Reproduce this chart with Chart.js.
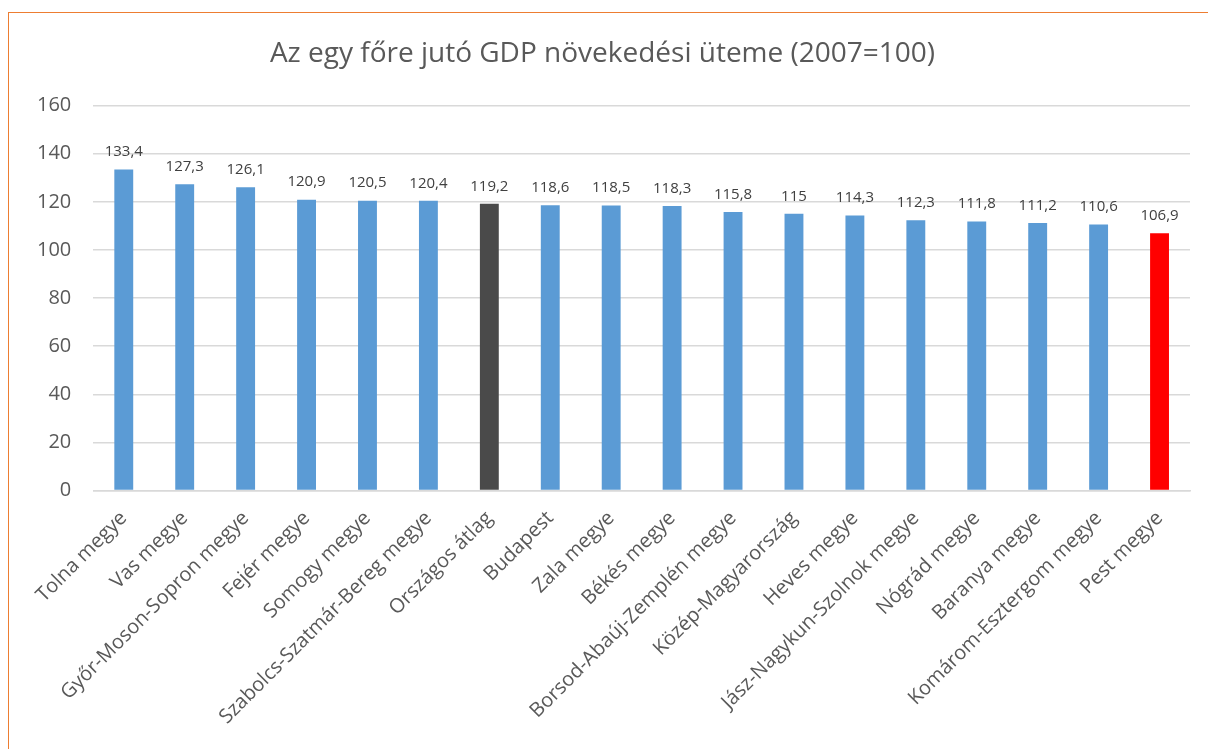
<!DOCTYPE html>
<html>
<head>
<meta charset="utf-8">
<script src="https://cdn.jsdelivr.net/npm/chart.js@4"></script>
<style>
  html, body { margin: 0; padding: 0; background: #fff; overflow: hidden; }
  #wrap { position: absolute; left: 0; top: 0; width: 1208px; height: 749px; }
  #frame { position: absolute; left: 8px; top: 12px; right: -10px; bottom: -10px;
           border-left: 1.5px solid #ED7D31; border-top: 1.5px solid #ED7D31; pointer-events: none; }
</style>
</head>
<body>
<div id="wrap"><canvas id="gdpBar" width="1208" height="749"></canvas></div>
<div id="frame"></div>
<script>
const categories = ['Tolna megye', 'Vas megye', 'Győr-Moson-Sopron megye', 'Fejér megye', 'Somogy megye',
  'Szabolcs-Szatmár-Bereg megye', 'Országos átlag', 'Budapest', 'Zala megye', 'Békés megye',
  'Borsod-Abaúj-Zemplén megye', 'Közép-Magyarország', 'Heves megye', 'Jász-Nagykun-Szolnok megye',
  'Nógrád megye', 'Baranya megye', 'Komárom-Esztergom megye', 'Pest megye'];
const growth = [133.4, 127.3, 126.1, 120.9, 120.5, 120.4, 119.2, 118.6, 118.5, 118.3,
  115.8, 115, 114.3, 112.3, 111.8, 111.2, 110.6, 106.9];
const yTicks = [0, 20, 40, 60, 80, 100, 120, 140, 160];

const barColors = categories.map(function (c) {
  if (c === 'Országos átlag') return '#4a4a4a';
  if (c === 'Pest megye') return '#ff0000';
  return '#5b9bd5';
});

const valueLabels = {
  id: 'valueLabels',
  afterDatasetsDraw(chart) {
    const ctx = chart.ctx;
    const meta = chart.getDatasetMeta(0);
    ctx.save();
    ctx.font = '15px "Open Sans"';
    ctx.fillStyle = '#404040';
    ctx.textAlign = 'center';
    ctx.textBaseline = 'bottom';
    meta.data.forEach(function (bar, i) {
      ctx.fillText(String(growth[i]).replace('.', ','), bar.x, bar.y - 10);
    });
    ctx.restore();
  }
};

Chart.defaults.font.family = '"Open Sans"';
Chart.defaults.color = '#595959';

const ctx = document.getElementById('gdpBar').getContext('2d');
new Chart(ctx, {
  type: 'bar',
  data: {
    labels: categories,
    datasets: [{
      data: growth,
      backgroundColor: barColors,
      categoryPercentage: 1,
      barPercentage: 0.31
    }]
  },
  options: {
    responsive: false,
    animation: false,
    layout: { padding: { left: 15, right: 18, top: 16, bottom: 12 } },
    plugins: {
      legend: { display: false },
      tooltip: { enabled: false },
      title: {
        display: true,
        text: 'Az egy főre jutó GDP növekedési üteme (2007=100)',
        font: { size: 28, weight: 'normal' },
        color: '#595959',
        padding: { top: 21, bottom: 35 }
      }
    },
    scales: {
      x: {
        grid: { display: false },
        border: { color: '#d9d9d9', width: 1.5 },
        ticks: { font: { size: 20 }, color: '#595959', maxRotation: 45, minRotation: 45, autoSkip: false, padding: 8 }
      },
      y: {
        min: 0,
        max: 160,
        afterBuildTicks(scale) { scale.ticks = yTicks.map(function (v) { return { value: v }; }); },
        grid: { color: '#d9d9d9', lineWidth: 1.5, drawTicks: false },
        border: { display: false },
        ticks: { font: { size: 20 }, color: '#595959', padding: 22 }
      }
    }
  },
  plugins: [valueLabels]
});
</script>
</body>
</html>
